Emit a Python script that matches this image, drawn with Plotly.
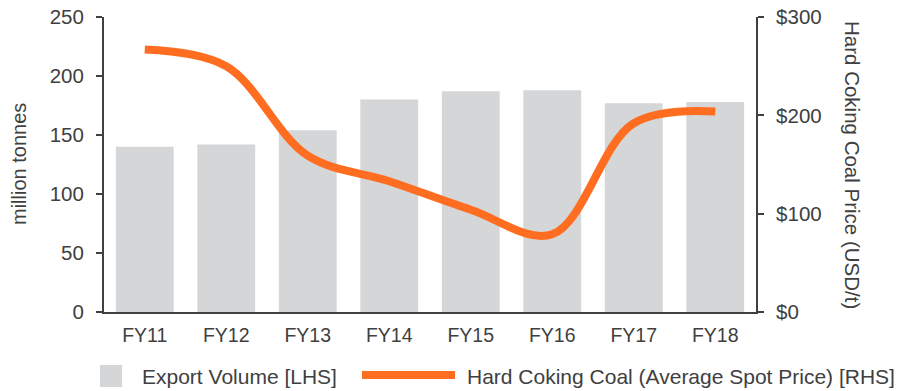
import plotly.graph_objects as go

# Financial years on the category axis
years = ["FY11", "FY12", "FY13", "FY14", "FY15", "FY16", "FY17", "FY18"]
# Export volume, million tonnes (left axis)
export_volume = [140, 142, 154, 180, 187, 188, 177, 178]
# Hard coking coal average spot price, USD/t (right axis)
coking_price = [267, 250, 159, 133, 104, 79, 192, 204]

left_ticks = [0, 50, 100, 150, 200, 250]
right_ticks = [0, 100, 200, 300]
right_tick_text = ["$0", "$100", "$200", "$300"]

FONT = "Liberation Sans, Arial, sans-serif"
TEXT = "#404040"
AXIS = "#404040"
BAR = "#D5D6D8"
LINE = "#FF6D21"

W, H = 904, 391
M_L, M_R, M_T, M_B = 104, 148, 17, 79

fig = go.Figure()
fig.add_trace(go.Bar(
    x=years, y=export_volume, name="Export Volume [LHS]",
    marker=dict(color=BAR, line=dict(width=0)), yaxis="y",
))
fig.add_trace(go.Scatter(
    x=years, y=coking_price, name="Hard Coking Coal (Average Spot Price) [RHS]",
    mode="lines", line=dict(color=LINE, width=8, shape="spline", smoothing=1.0),
    yaxis="y2",
))

fig.update_layout(
    width=W, height=H,
    margin=dict(l=M_L, r=M_R, t=M_T, b=M_B, autoexpand=False),
    paper_bgcolor="white", plot_bgcolor="white",
    font=dict(family=FONT, size=20, color=TEXT),
    showlegend=False,
    bargap=0.29,
    xaxis=dict(
        showline=True, linecolor=AXIS, linewidth=2, ticks="",
        tickfont=dict(size=19.5, color=TEXT), showgrid=False,
        ticklabelstandoff=5, automargin=False,
    ),
    yaxis=dict(
        range=[0, 250], tickvals=left_ticks, showline=True, linecolor=AXIS,
        linewidth=2, ticks="outside", ticklen=6, tickcolor=AXIS, tickwidth=2,
        showgrid=False, zeroline=False, tickfont=dict(size=20.5, color=TEXT),
        ticklabelstandoff=8, automargin=False,
    ),
    yaxis2=dict(
        range=[0, 300], tickvals=right_ticks, ticktext=right_tick_text,
        overlaying="y", side="right", showline=True, linecolor=AXIS,
        linewidth=2, ticks="outside", ticklen=6, tickcolor=AXIS, tickwidth=2,
        showgrid=False, zeroline=False, tickfont=dict(size=20.5, color=TEXT),
        ticklabelstandoff=8, automargin=False,
    ),
)

plot_l, plot_r, plot_t, plot_b = M_L, W - M_R, M_T, H - M_B


def px_x(px):
    return (px - plot_l) / (plot_r - plot_l)


def px_y(py):
    return (plot_b - py) / (plot_b - plot_t)


# Axis titles
fig.add_annotation(
    text="million tonnes", textangle=-90,
    xref="paper", yref="paper", x=px_x(19), y=px_y(164),
    xanchor="center", yanchor="middle",
    showarrow=False, font=dict(size=20, color=TEXT, family=FONT),
)
fig.add_annotation(
    text="Hard Coking Coal Price (USD/t)", textangle=90,
    xref="paper", yref="paper", x=px_x(853), y=px_y(165),
    xanchor="center", yanchor="middle",
    showarrow=False, font=dict(size=20.5, color=TEXT, family=FONT),
)

# Legend drawn beneath the plot
legend_y = 376
fig.add_shape(type="rect", xref="paper", yref="paper",
              x0=px_x(100), x1=px_x(122), y0=px_y(387), y1=px_y(365),
              fillcolor=BAR, line=dict(width=0))
fig.add_annotation(text="Export Volume [LHS]", xref="paper", yref="paper",
                   x=px_x(140), y=px_y(legend_y), xanchor="left", yanchor="middle",
                   showarrow=False, font=dict(size=21, color=TEXT, family=FONT))
fig.add_shape(type="line", xref="paper", yref="paper",
              x0=px_x(362), x1=px_x(455), y0=px_y(375), y1=px_y(375),
              line=dict(color=LINE, width=8))
fig.add_annotation(text="Hard Coking Coal (Average Spot Price) [RHS]",
                   xref="paper", yref="paper",
                   x=px_x(465), y=px_y(legend_y), xanchor="left", yanchor="middle",
                   showarrow=False, font=dict(size=21, color=TEXT, family=FONT))

fig.write_html("out.html")
